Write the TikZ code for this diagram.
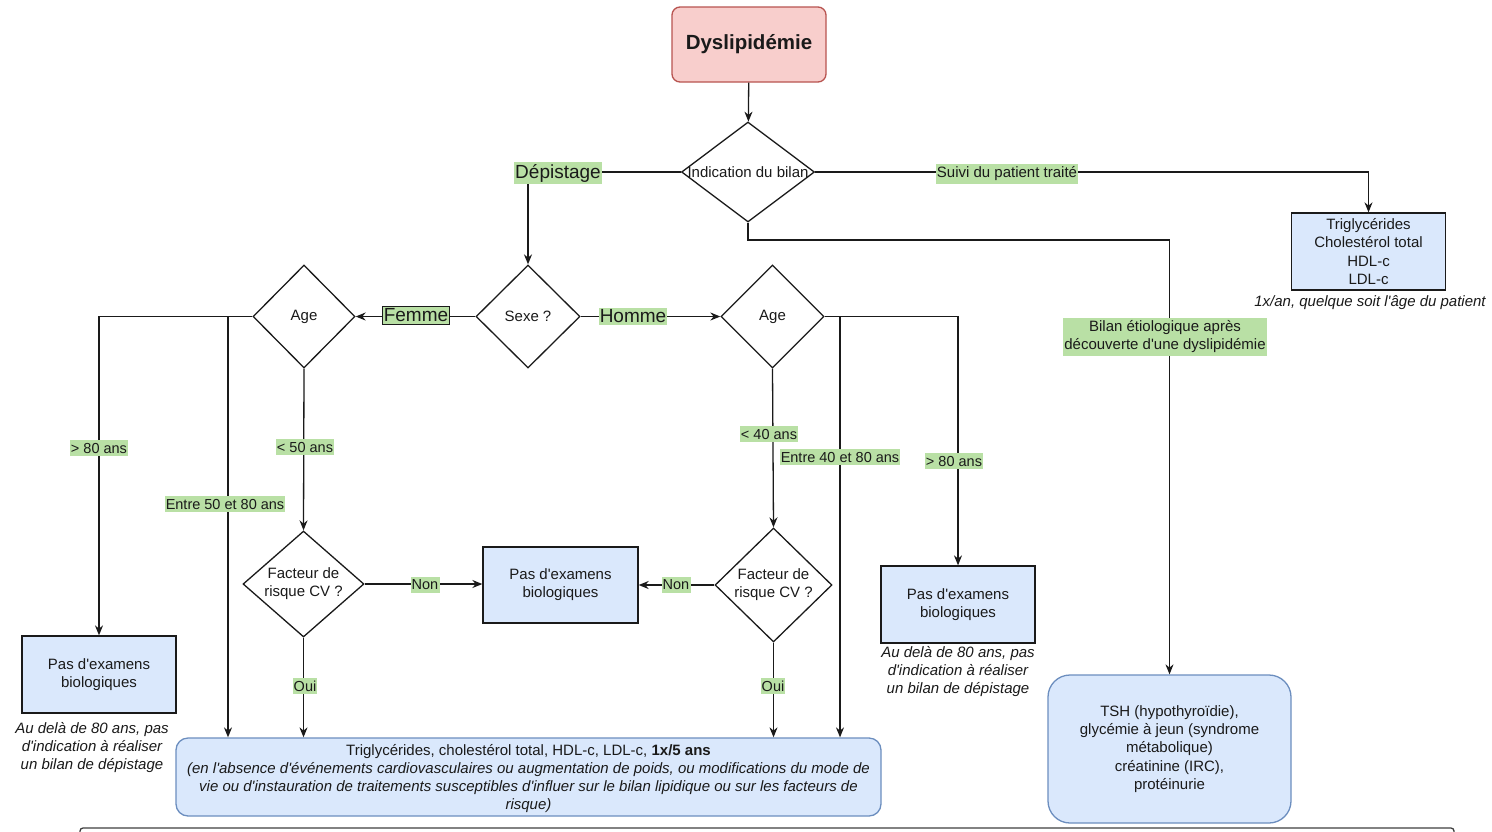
\documentclass[tikz,border=0pt]{standalone}
\usepackage{fontspec}
\setmainfont{Liberation Sans}[Ligatures=TeXOff]
\usetikzlibrary{shapes.geometric,arrows.meta}
\definecolor{redfill}{HTML}{F8CECC}
\definecolor{redline}{HTML}{B85450}
\definecolor{bluefill}{HTML}{DAE8FC}
\definecolor{blueline}{HTML}{6C8EBF}
\definecolor{lblgreen}{HTML}{B9E0A5}
\definecolor{ink}{HTML}{1A1A1A}
\begin{document}
\begin{tikzpicture}[x=1pt,y=-1pt,
  box/.style={draw=ink, fill=bluefill, line width=1.3pt, align=center, inner sep=0pt, font=\fontsize{15}{18.2}\selectfont, text=ink},
  rbox/.style={box, draw=blueline},
  dia/.style={diamond, draw=ink, line width=1.3pt, inner sep=0pt, fill=white},
  dlab/.style={font=\fontsize{15}{18}\selectfont, align=center, text=ink, inner sep=0pt},
  lbl/.style={fill=lblgreen, inner xsep=1.2pt, inner ysep=2.5pt, font=\fontsize{14.5}{17.5}\selectfont, align=center, text=ink},
  big/.style={lbl, inner ysep=2pt, font=\fontsize{19}{22}\selectfont},
  arr/.style={-{Stealth[length=10pt,width=8pt]}, line width=1.3pt, draw=ink},
  captxt/.style={font=\itshape\fontsize{15}{18}\selectfont, align=center, text=ink, inner sep=0pt}
]
\clip (0,0) rectangle (1492,831);
\fill[white] (0,0) rectangle (1492,831);

% nodes
\node[rectangle, rounded corners=8pt, draw=redline, fill=redfill, line width=1.3pt,
      minimum width=154pt, minimum height=75pt, text=ink,
      font=\bfseries\fontsize{20.5}{24}\selectfont] (dys) at (749,44.5) {Dyslipidémie};
\node[dia, minimum width=133pt, minimum height=100pt,
      label={[dlab]center:Indication du bilan}] (ind) at (748,172) {};
\node[dia, minimum width=104pt, minimum height=103pt,
      label={[dlab]center:Sexe ?}] (sexe) at (528,316.5) {};
\node[dia, minimum width=102pt, minimum height=103pt,
      label={[dlab]center:Age}] (ageL) at (304,316.5) {};
\node[dia, minimum width=103pt, minimum height=103pt,
      label={[dlab]center:Age}] (ageR) at (772.5,316.5) {};
\node[dia, minimum width=121pt, minimum height=106pt,
      label={[dlab]center:Facteur de\\risque CV ?}] (facL) at (303.5,584) {};
\node[dia, minimum width=117pt, minimum height=114pt,
      label={[dlab]center:Facteur de\\risque CV ?}] (facR) at (773.5,585) {};

\node[box, minimum width=154pt, minimum height=77pt] (trig) at (1368.5,251.5)
  {Triglycérides\\Cholestérol total\\HDL-c\\LDL-c};
\node[box, minimum width=155pt, minimum height=76pt] (pasM) at (560.5,585)
  {Pas d'examens\\biologiques};
\node[box, minimum width=154pt, minimum height=77pt] (pasR) at (958,604.5)
  {Pas d'examens\\biologiques};
\node[box, minimum width=154pt, minimum height=77pt] (pasL) at (99,674.5)
  {Pas d'examens\\biologiques};
\node[rbox, rounded corners=12pt, minimum width=705pt, minimum height=78pt] (bot) at (528.5,777)
  {};
\node[font=\fontsize{15}{18.3}\selectfont, align=center, text=ink, inner sep=0pt] (botTxt) at (528.5,778.5)
  {Triglycérides, cholestérol total, HDL-c, LDL-c, \textbf{1x/5 ans}\\
   \itshape (en l'absence d'événements cardiovasculaires ou augmentation de poids, ou modifications du mode de\\
   \itshape vie ou d'instauration de traitements susceptibles d'influer sur le bilan lipidique ou sur les facteurs de\\
   \itshape risque)};
\node[rbox, rounded corners=22pt, minimum width=243pt, minimum height=148pt] (tsh) at (1169.5,749)
  {TSH (hypothyroïdie),\\glycémie à jeun (syndrome\\métabolique)\\créatinine (IRC),\\protéinurie};

% captions
\node[captxt] (capT) at (1370,303) {1x/an, quelque soit l'âge du patient};
\node[captxt] (capR) at (958,672) {Au delà de 80 ans, pas\\d'indication à réaliser\\un bilan de dépistage};
\node[captxt] (capL) at (92,748) {Au delà de 80 ans, pas\\d'indication à réaliser\\un bilan de dépistage};

% connectors
\coordinate (indb) at (748,240);
\coordinate (jL) at (228,316.5);
\coordinate (jR) at (840,316.5);
\draw[arr] (dys) -- (ind);
\draw[arr] (ind.west) -| (sexe.north);
\draw[arr] (ind.east) -| (trig.north);
\draw[arr] (ind.south) -- (indb) -| (tsh.north);
\draw[arr] (sexe.west) -- (ageL.east);
\draw[arr] (sexe.east) -- (ageR.west);
\draw[arr] (ageL.west) -| (pasL.north);
\draw[arr] (jL) -- (jL |- bot.north);
\draw[arr] (ageL.south) -- (facL.north);
\draw[arr] (facL.east) -- (facL.east -| pasM.west);
\draw[arr] (facL.south) -- (facL.south |- bot.north);
\draw[arr] (ageR.south) -- (facR.north);
\draw[arr] (ageR.east) -| (pasR.north);
\draw[arr] (jR) -- (jR |- bot.north);
\draw[arr] (facR.west) -- (facR.west -| pasM.east);
\draw[arr] (facR.south) -- (facR.south |- bot.north);

% labels
\node[big] (lDep) at (558,173) {Dépistage};
\node[lbl, font=\fontsize{15}{18}\selectfont] (lSuivi) at (1007,174) {Suivi du patient traité};
\node[lbl, font=\fontsize{15}{18}\selectfont] (lBilan) at (1165,337) {Bilan étiologique après\\découverte d'une dyslipidémie};
\node[big, draw=ink, line width=1pt, inner xsep=1.5pt] (lFem) at (416,315.5) {Femme};
\node[big] (lHom) at (633,316.5) {Homme};
\node[lbl] (l80L) at (99,448) {> 80 ans};
\node[lbl] (l5080) at (225,504) {Entre 50 et 80 ans};
\node[lbl] (l50) at (305,447) {< 50 ans};
\node[lbl] (lNonL) at (425,585) {Non};
\node[lbl] (lOuiL) at (305,686) {Oui};
\node[lbl] (l40) at (769,434) {< 40 ans};
\node[lbl] (l4080) at (840,457) {Entre 40 et 80 ans};
\node[lbl] (l80R) at (954,461) {> 80 ans};
\node[lbl] (lNonR) at (676,585) {Non};
\node[lbl] (lOuiR) at (773,686) {Oui};

% bottom frame (cut off)
\draw[line width=1.3pt, draw=black!75, rounded corners=3pt] (80,828) rectangle (1454,900);
\end{tikzpicture}
\end{document}
